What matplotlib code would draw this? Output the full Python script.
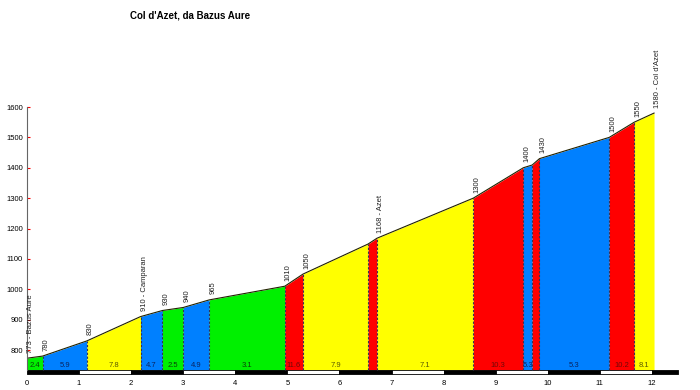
import matplotlib.pyplot as plt

plt.rcParams['font.family'] = ['Liberation Sans', 'DejaVu Sans']

# profile points (km, m)
dist = [0, 0.3, 1.15, 2.18, 2.6, 3.0, 3.5, 4.95, 5.3, 6.55, 6.72, 8.57,
        9.53, 9.7, 9.84, 11.18, 11.66, 12.04]
alt = [773, 780, 830, 910, 930, 940, 965, 1010, 1050, 1149, 1168, 1300,
       1400, 1409, 1430, 1500, 1550, 1580]

# one entry per segment
seg_color = ['g', 'b', 'y', 'b', 'g', 'b', 'g', 'r', 'y', 'r', 'y', 'r',
             'b', 'r', 'b', 'r', 'y']
seg_grade = ['2.4', '5.9', '7.8', '4.7', '2.5', '4.9', '3.1', '11.6', '7.9', '',
             '7.1', '10.3', '5.3', '', '5.3', '10.2', '8.1']

# elevation labels above the profile
label_x = [0, 0.3, 1.15, 2.18, 2.6, 3.0, 3.5, 4.95, 5.3, 6.72, 8.57, 9.53,
           9.84, 11.18, 11.66, 12.04]
label_y = [773, 780, 830, 910, 930, 940, 965, 1010, 1050, 1168, 1300, 1400,
           1430, 1500, 1550, 1580]
label_txt = ['773 - Bazus Aure', '780', '830', '910 - Camparan', '930', '940',
             '965', '1010', '1050', '1168 - Azet', '1300', '1400', '1430',
             '1500', '1550', "1580 - Col d'Azet"]

fill = {'g': '#00F000', 'b': '#0080FF', 'y': '#FFFF00', 'r': '#FF0000'}
text_col = {'g': '#0A400A', 'b': '#0A2460', 'y': '#5A5A00', 'r': '#700808'}

YMIN, BAR_TOP = 721, 734

fig = plt.figure(figsize=(7, 3.9), dpi=100)
ax = fig.add_axes([27 / 700, 16 / 390, 651 / 700, (374 - 107) / 390])

for i in range(len(seg_color)):
    x0, x1 = dist[i], dist[i + 1]
    ax.fill_between([x0, x1], [BAR_TOP, BAR_TOP], [alt[i], alt[i + 1]],
                    color=fill[seg_color[i]], linewidth=0)
    if seg_grade[i]:
        ax.text((x0 + x1) / 2, BAR_TOP + 5, seg_grade[i], ha='center', va='bottom',
                fontsize=5.5, color=text_col[seg_color[i]])

# dashed separators
for x, y in zip(dist[1:-1], alt[1:-1]):
    ax.plot([x, x], [BAR_TOP, y], color='#333355', linestyle=(0, (2, 1.5)), linewidth=0.8)

ax.plot(dist, alt, color='#222200', linewidth=0.8)

for x, y, t in zip(label_x, label_y, label_txt):
    ax.text(x + 0.07, y + 18, t, rotation=90, ha='center', va='bottom',
            fontsize=5.5, color='#222222', clip_on=False)

# km bar
for k in range(13):
    ax.fill_between([k, min(k + 1, 12.5)], YMIN, BAR_TOP,
                    color='black' if k % 2 == 0 else 'white',
                    edgecolor='black', linewidth=0.6)

ax.set_xlim(0, 12.5)
ax.set_ylim(YMIN, 1600)
ax.set_xticks(range(13))
ax.set_yticks(range(800, 1601, 100))
ax.tick_params(axis='x', length=0, labelsize=5.5, pad=4)
ax.tick_params(axis='y', direction='in', length=2, color='red', labelsize=5.5, pad=3)
for s in ['top', 'right', 'bottom']:
    ax.spines[s].set_visible(False)
ax.spines['left'].set_color('#666666')
ax.spines['left'].set_bounds(BAR_TOP, 1600)

fig.text(190 / 700, 1 - 15 / 390, "Col d'Azet, da Bazus Aure", ha='center', va='center',
         fontsize=7, fontweight='bold')

fig.savefig('out.png', dpi=100)
